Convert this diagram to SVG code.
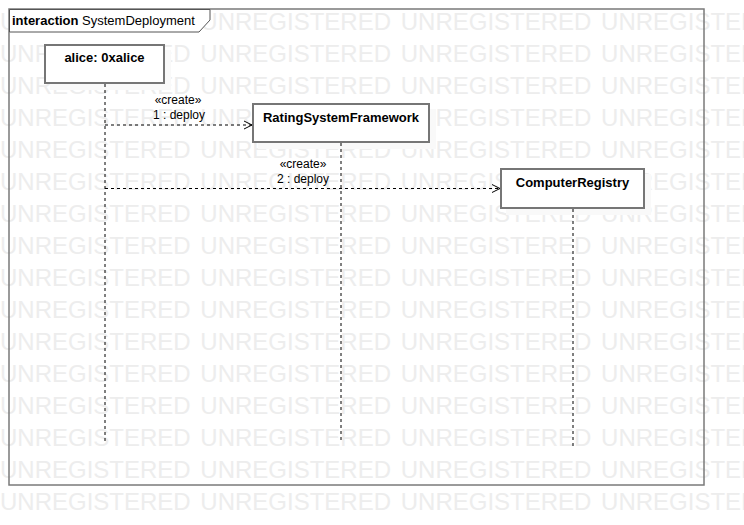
<svg xmlns="http://www.w3.org/2000/svg" xmlns:xlink="http://www.w3.org/1999/xlink" width="744" height="525" viewBox="0 0 744 525">
  <style>
    .wm { font-family: "Liberation Sans", Arial, sans-serif; font-size: 24px; fill: #ededed; word-spacing: 3px; }
    .frame { fill: none; stroke: #7a7a7a; stroke-width: 1.5; }
    .tab { fill: #ffffff; stroke: #555555; stroke-width: 1; }
    .title { font-family: "Liberation Sans", Arial, sans-serif; font-size: 13px; fill: #000; }
    .box { fill: #ffffff; stroke: #767676; stroke-width: 2; }
    .shadow { fill: #f9f9f9; stroke: none; }
    .name { font-family: "Liberation Sans", Arial, sans-serif; font-size: 13px; font-weight: bold; fill: #000; text-anchor: middle; }
    .life { stroke: #000; stroke-width: 1; stroke-dasharray: 3 3; fill: none; }
    .msg { stroke: #000; stroke-width: 1; stroke-dasharray: 3 3; fill: none; }
    .lbl { font-family: "Liberation Sans", Arial, sans-serif; font-size: 12px; fill: #000; text-anchor: middle; }
  </style>
  <defs>
    <marker id="open" markerWidth="10" markerHeight="10" refX="9" refY="5" orient="auto" markerUnits="userSpaceOnUse">
      <path d="M1,1 L9,5 L1,9" fill="none" stroke="#000" stroke-width="1"/>
    </marker>
    <text id="wmrow" class="wm" x="0" y="0">UNREGISTERED UNREGISTERED UNREGISTERED UNREGISTERED</text>
  </defs>
  <rect x="0" y="0" width="744" height="525" fill="#ffffff"/>
  <g id="watermark">
    <use xlink:href="#wmrow" y="30"/>
    <use xlink:href="#wmrow" y="62"/>
    <use xlink:href="#wmrow" y="94"/>
    <use xlink:href="#wmrow" y="126"/>
    <use xlink:href="#wmrow" y="158"/>
    <use xlink:href="#wmrow" y="190"/>
    <use xlink:href="#wmrow" y="222"/>
    <use xlink:href="#wmrow" y="254"/>
    <use xlink:href="#wmrow" y="286"/>
    <use xlink:href="#wmrow" y="318"/>
    <use xlink:href="#wmrow" y="350"/>
    <use xlink:href="#wmrow" y="382"/>
    <use xlink:href="#wmrow" y="414"/>
    <use xlink:href="#wmrow" y="446"/>
    <use xlink:href="#wmrow" y="478"/>
    <use xlink:href="#wmrow" y="510"/>
  </g>
  <g id="frame">
    <rect class="frame" x="9" y="9" width="695" height="476"/>
    <path class="tab" d="M9.5,9.5 H210 V20 L199,32 H9.5 Z"/>
    <text class="title" x="12" y="25"><tspan font-weight="bold">interaction</tspan> SystemDeployment</text>
  </g>
  <g id="alice">
    <rect class="shadow" x="50" y="50" width="121" height="40"/>
    <rect class="box" x="45" y="45" width="119" height="38"/>
    <text class="name" x="104.5" y="62">alice: 0xalice</text>
  </g>
  <g id="ratingSystemFramework">
    <rect class="shadow" x="258" y="109" width="178" height="40"/>
    <rect class="box" x="253" y="104" width="176" height="38"/>
    <text class="name" x="341" y="122">RatingSystemFramework</text>
  </g>
  <g id="computerRegistry">
    <rect class="shadow" x="506" y="174" width="145" height="41"/>
    <rect class="box" x="501" y="169" width="143" height="39"/>
    <text class="name" x="572.5" y="187">ComputerRegistry</text>
  </g>
  <g id="connectors">
    <line class="life" x1="105" y1="84" x2="105" y2="442"/>
    <line class="life" x1="341" y1="143" x2="341" y2="442"/>
    <line class="life" x1="573" y1="209" x2="573" y2="446"/>
    <line class="msg" x1="105" y1="125" x2="252" y2="125" marker-end="url(#open)"/>
    <text class="lbl" x="178" y="104">«create»</text>
    <text class="lbl" x="179" y="119">1 : deploy</text>
    <line class="msg" x1="105" y1="188.5" x2="500" y2="188.5" marker-end="url(#open)"/>
    <text class="lbl" x="303" y="168">«create»</text>
    <text class="lbl" x="303" y="183">2 : deploy</text>
  </g>
</svg>
